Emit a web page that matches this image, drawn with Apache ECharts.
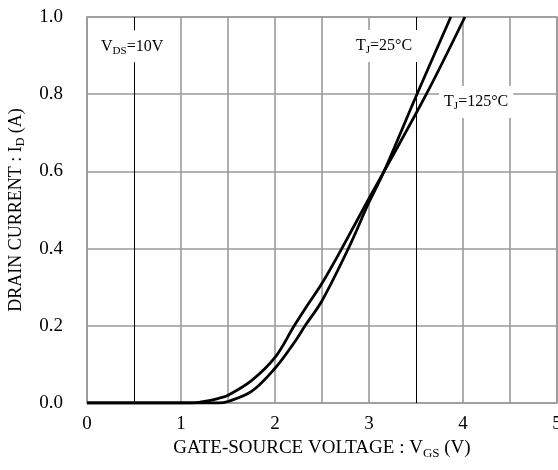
<!DOCTYPE html>
<html>
<head>
<meta charset="utf-8">
<script src="https://cdn.jsdelivr.net/npm/echarts@6/dist/echarts.min.js"></script>
<style>
  html, body { margin: 0; padding: 0; background: #fff; }
  #chart { width: 558px; height: 470px; }
</style>
</head>
<body>
<div id="chart"></div>
<script>
// transfer characteristics
const tj25 = [[0, 0], [1.4, 0], [1.5, 0.004], [1.75, 0.03], [2.0, 0.09], [2.2, 0.155], [2.32, 0.2], [2.5, 0.265],
  [2.78, 0.4], [3.0, 0.52], [3.16, 0.6], [3.51, 0.8], [3.87, 1.0]]
const tj125 = [[0, 0], [1.1, 0], [1.2, 0.002], [1.3, 0.006], [1.4, 0.012], [1.5, 0.02], [1.75, 0.058],
  [2.0, 0.118], [2.2, 0.198], [2.35, 0.255], [2.5, 0.31], [2.71, 0.4], [3.0, 0.53], [3.16, 0.6], [3.61, 0.8], [4.02, 1.0]]
const xLabels = ['0', '1', '2', '3', '4', '5']
const yLabels = ['0.0', '0.2', '0.4', '0.6', '0.8', '1.0']
const notes = [
  { at: [0.48, 0.924], text: '{n|V}{s|DS}{n|=10V}' },
  { at: [3.16, 0.925], text: '{n|T}{s|J}{n|=25°C}' },
  { at: [4.14, 0.78], text: '{n|T}{s|J}{n|=125°C}' }
]

const font = 'Liberation Serif'
const gray = '#9a9a9a'
// vertical grid every 0.5 V; the 0.5 and 3.5 lines are thin black ones drawn with markLine
const xLineColors = [gray, 'transparent', gray, gray, gray, gray, gray, 'transparent', gray, gray, gray]

function subRich (size) {
  return {
    n: { fontFamily: font, fontSize: size, lineHeight: size + 4, color: '#000' },
    s: { fontFamily: font, fontSize: Math.round(size * 0.66), lineHeight: Math.round(size * 0.66), verticalAlign: 'bottom', color: '#000' }
  }
}

const chart = echarts.init(document.getElementById('chart'))
const option = {
  animation: false,
  grid: {
    left: 87, right: 1, top: 17, bottom: 67,
    outerBoundsMode: 'none',
    show: true, borderColor: gray, borderWidth: 1.6
  },
  xAxis: {
    type: 'value',
    min: 0,
    max: 5,
    interval: 0.5,
    name: '{n|GATE-SOURCE VOLTAGE : V}{s|GS}{n| (V)}',
    nameLocation: 'middle',
    nameGap: 30,
    nameTextStyle: { rich: subRich(19) },
    axisLine: { show: false },
    axisTick: { show: false },
    axisLabel: {
      margin: 12,
      fontFamily: font,
      fontSize: 19,
      color: '#000',
      hideOverlap: false,
      formatter: v => (Math.abs(v - Math.round(v)) < 1e-6 ? xLabels[Math.round(v)] : '')
    },
    splitLine: { show: true, lineStyle: { color: xLineColors, width: 1.6 } }
  },
  yAxis: {
    type: 'value',
    min: 0,
    max: 1,
    interval: 0.2,
    name: '{n|DRAIN CURRENT : I}{s|D}{n| (A)}',
    nameLocation: 'middle',
    nameRotate: 90,
    nameGap: 60,
    nameTextStyle: { rich: subRich(18) },
    axisLine: { show: false },
    axisTick: { show: false },
    axisLabel: {
      margin: 24,
      fontFamily: font,
      fontSize: 19,
      color: '#000',
      formatter: v => yLabels[Math.round(v * 5)]
    },
    splitLine: { show: true, lineStyle: { color: gray, width: 1.6 } }
  },
  series: [
    {
      name: 'Tj=125',
      type: 'line',
      data: tj125,
      smooth: 0.35,
      showSymbol: false,
      lineStyle: { color: '#000', width: 2.8 },
      markLine: {
        silent: true,
        symbol: 'none',
        label: { show: false },
        lineStyle: { color: '#000', width: 1, type: 'solid' },
        data: [{ xAxis: 0.5 }, { xAxis: 3.5 }]
      }
    },
    {
      name: 'Tj=25',
      type: 'line',
      data: tj25,
      smooth: 0.35,
      showSymbol: false,
      lineStyle: { color: '#000', width: 2.8 }
    }
  ]
}
chart.setOption(option)

// annotation boxes with a white background that hide the grid behind them
const graphics = notes.map(n => {
  const p = chart.convertToPixel({ gridIndex: 0 }, n.at)
  return {
    type: 'text',
    z: 100,
    x: p[0],
    y: p[1],
    style: {
      text: n.text,
      align: 'center',
      verticalAlign: 'middle',
      backgroundColor: '#fff',
      padding: [6, 5, 6, 5],
      rich: {
        n: { fontFamily: font, fontSize: 16, lineHeight: 20, color: '#000' },
        s: { fontFamily: font, fontSize: 11, lineHeight: 11, verticalAlign: 'bottom', color: '#000' }
      }
    }
  }
})
chart.setOption({ graphic: graphics })
</script>
</body>
</html>
